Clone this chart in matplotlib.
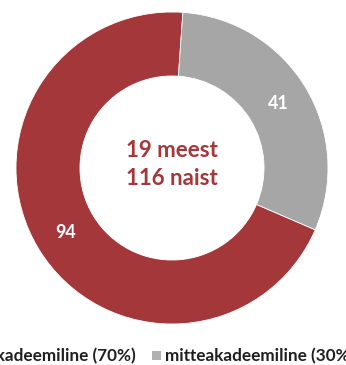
import matplotlib
matplotlib.use("Agg")
import matplotlib.pyplot as plt
from matplotlib.patches import Rectangle

categories = ["akadeemiline (70%)", "mitteakadeemiline (30%)"]
values = [94, 41]
center_lines = ["19 meest", "116 naist"]
colors = ["#A3373A", "#A6A6A6"]

plt.rcParams['font.family'] = ['Lato', 'DejaVu Sans']

W, H = 346, 365
fig = plt.figure(figsize=(W / 100, H / 100), dpi=100)
fig.patch.set_facecolor("white")
ax = fig.add_axes([16 / W, (H - 324) / H, 312 / W, 312 / H])

total = sum(values)
wedges, texts, autotexts = ax.pie(
    values, colors=colors, startangle=86, counterclock=True,
    radius=1.0, wedgeprops=dict(width=0.41, edgecolor="white", linewidth=0.6),
    autopct=lambda p: f"{round(p * total / 100):.0f}", pctdistance=0.795,
    textprops=dict(color="white", fontsize=13, fontweight="bold"))
ax.set_xlim(-1, 1)
ax.set_ylim(-1, 1)
ax.set_aspect("equal")
ax.axis("off")

ax.text(0, 0.115, center_lines[0], ha="center", va="center", color="#A3373A",
        fontsize=16, fontweight="bold")
ax.text(0, -0.065, center_lines[1], ha="center", va="center", color="#A3373A",
        fontsize=16, fontweight="bold")

# legend drawn manually (it overflows the figure in the reference)
def px(x, y):
    return x / W, 1 - y / H

leg_y = 356
t1 = fig.text(*px(136, leg_y), categories[0], ha="right", va="center",
              fontsize=12.3, fontweight="bold", color="#1F1F1F")
t2 = fig.text(*px(165, leg_y), categories[1], ha="left", va="center",
              fontsize=12.3, fontweight="bold", color="#1F1F1F")
fig.canvas.draw()
bb = t1.get_window_extent()
sq = 9
fig.add_artist(Rectangle(((bb.x0 - 13) / W, (H - leg_y - sq / 2 + 1) / H), sq / W, sq / H,
                         transform=fig.transFigure, facecolor=colors[0], edgecolor="none"))
fig.add_artist(Rectangle((152 / W, (H - leg_y - sq / 2 + 1) / H), sq / W, sq / H,
                         transform=fig.transFigure, facecolor="#B0B0B0", edgecolor="none"))

fig.savefig("out.png", dpi=100, facecolor="white")
